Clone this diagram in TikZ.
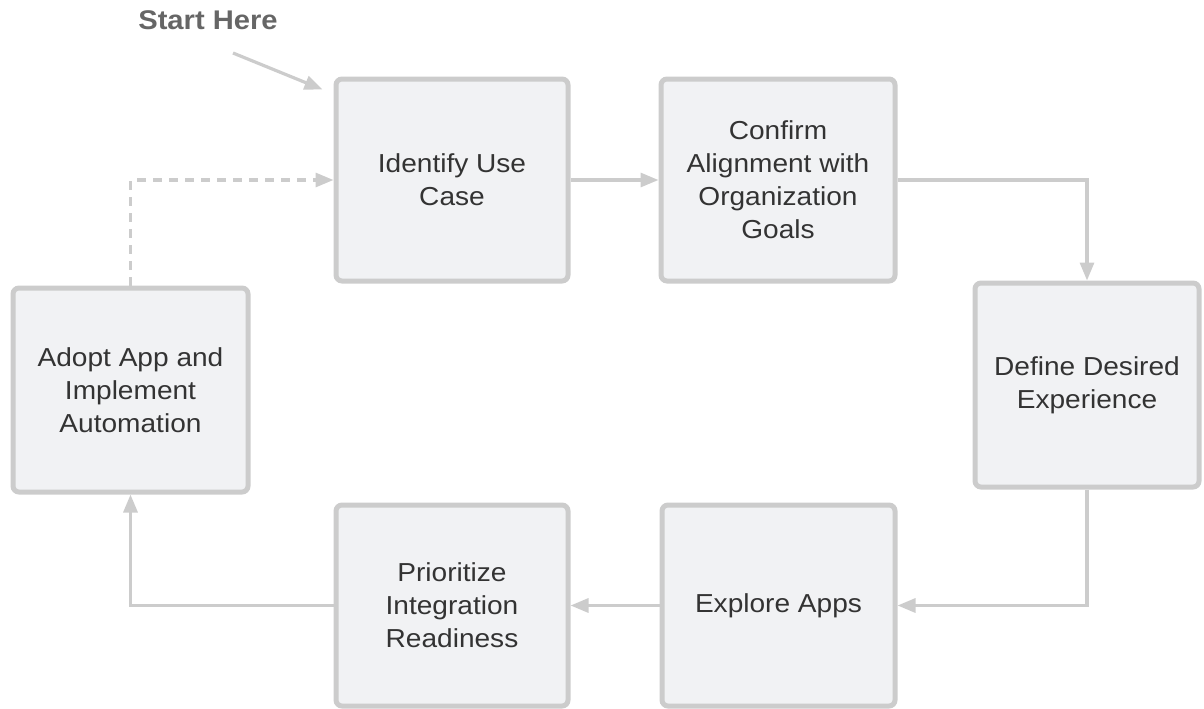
\documentclass[tikz,border=0pt]{standalone}
\usepackage{fontspec}
\setmainfont[FakeStretch=1.08]{Liberation Sans}
\usetikzlibrary{arrows.meta,calc}
\definecolor{boxfill}{HTML}{F1F2F4}
\definecolor{boxline}{HTML}{CCCCCC}
\definecolor{txt}{HTML}{333333}
\definecolor{lbl}{HTML}{666666}
\begin{document}
\begin{tikzpicture}[x=1pt,y=-1pt,
  stepbox/.style={draw=boxline, fill=boxfill, line width=5pt, rounded corners=6pt,
    inner sep=0pt, align=center, text=txt, font=\fontsize{26}{33}\selectfont},
  conn/.style={draw=boxline, line width=3.2pt, -{Triangle[length=18pt,width=14pt]}},
  dconn/.style={conn, dash pattern=on 9pt off 7pt}]
\useasboundingbox (0,0) rectangle (1204,709);
\node[stepbox, minimum width=232pt, minimum height=202pt] (id) at (452,180) {Identify Use\\Case};
\node[stepbox, minimum width=234pt, minimum height=202pt] (confirm) at (778,180) {Confirm\\Alignment with\\Organization\\Goals};
\node[stepbox, minimum width=224pt, minimum height=204pt] (define) at (1087,385) {Define Desired\\Experience};
\node[stepbox, minimum width=233pt, minimum height=201pt] (explore) at (778.5,605.5) {Explore Apps};
\node[stepbox, minimum width=232pt, minimum height=201pt] (prior) at (452,605.5) {Prioritize\\Integration\\Readiness};
\node[stepbox, minimum width=235pt, minimum height=204pt] (adopt) at (130.5,390) {Adopt App and\\Implement\\Automation};
\node[font=\bfseries\fontsize{27}{30}\selectfont, text=lbl] (start) at (208,20) {Start Here};
\coordinate (s) at (233,53);
\draw[conn] (s) -- ([shift={(-11,13)}]id.north west);
\draw[conn] (id.east) -- (confirm.west);
\draw[conn] (confirm.east) -| (define.north);
\draw[conn] (define.south) |- (explore.east);
\draw[conn] (explore.west) -- (prior.east);
\draw[conn] (prior.west) -| (adopt.south);
\draw[dconn] (adopt.north) |- (id.west);
\end{tikzpicture}
\end{document}
